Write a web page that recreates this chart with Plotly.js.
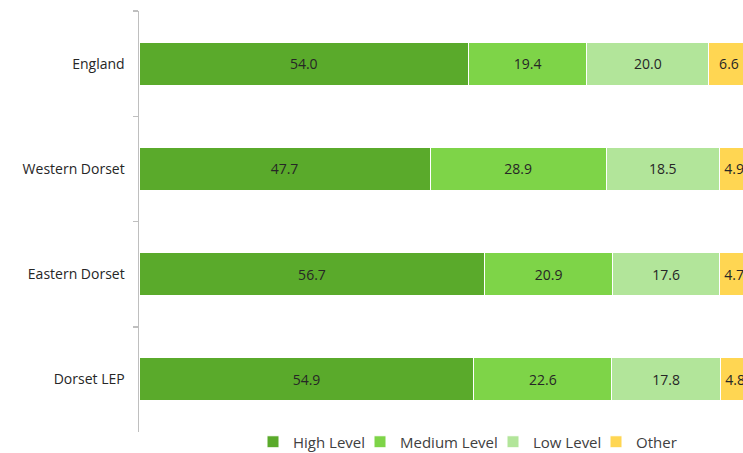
<!DOCTYPE html>
<html>
<head>
<meta charset="utf-8">
<script src="https://cdn.plot.ly/plotly-3.0.1.min.js"></script>
<style>html,body{margin:0;padding:0;background:#fff;}#chart{width:743px;height:453px;}</style>
</head>
<body>
<div id="chart"></div>
<script>
const categories = ["England", "Western Dorset", "Eastern Dorset", "Dorset LEP"];
const seriesNames = ["High Level", "Medium Level", "Low Level", "Other"];
const highLevel = [54.0, 47.7, 56.7, 54.9];
const mediumLevel = [19.4, 28.9, 20.9, 22.6];
const lowLevel = [20.0, 18.5, 17.6, 17.8];
const other = [6.6, 4.9, 4.7, 4.8];
const seriesValues = [highLevel, mediumLevel, lowLevel, other];
const colors = ["#5aaa2b", "#7ed448", "#b2e59a", "#ffd652"];
const legendIds = ["legend", "legend2", "legend3", "legend4"];
const legendX = [253, 360, 493, 596];

const traces = seriesValues.map((vals, i) => ({
  type: "bar",
  orientation: "h",
  name: seriesNames[i],
  legend: legendIds[i],
  y: categories,
  x: vals,
  marker: {color: colors[i], line: {color: "#ffffff", width: 1}},
  texttemplate: "%{x:.1f}",
  textposition: "inside",
  insidetextanchor: "middle",
  textangle: 0,
  constraintext: "none",
  textfont: {family: "'Open Sans', Lato, sans-serif", size: 14, color: "#262626"},
  hoverinfo: "skip"
}));

const layout = {
  width: 743,
  height: 453,
  margin: {l: 139, r: 0, t: 11, b: 21, autoexpand: false},
  barmode: "stack",
  bargap: 0.59,
  paper_bgcolor: "#ffffff",
  plot_bgcolor: "#ffffff",
  font: {family: "'Open Sans', Lato, sans-serif", size: 14, color: "#262626"},
  xaxis: {range: [0, 99], showticklabels: false, showgrid: false, zeroline: false, showline: false, fixedrange: true},
  yaxis: {
    type: "category",
    categoryorder: "array",
    categoryarray: categories,
    autorange: "reversed",
    showline: true,
    linecolor: "#bfbfbf",
    linewidth: 1.5,
    ticks: "outside",
    tickson: "boundaries",
    ticklen: 5,
    tickcolor: "#bfbfbf",
    tickwidth: 1.5,
    ticklabelstandoff: 10,
    showgrid: false,
    zeroline: false,
    tickfont: {size: 14, color: "#262626"}
  },
  showlegend: true
};

legendIds.forEach((id, i) => {
  layout[id] = {
    orientation: "h",
    xref: "container", yref: "container",
    x: legendX[i] / 743, xanchor: "left",
    y: 11 / 453, yanchor: "middle",
    font: {size: 15, color: "#404040"},
    itemwidth: 30,
    bgcolor: "rgba(0,0,0,0)"
  };
});

Plotly.newPlot("chart", traces, layout, {displayModeBar: false, staticPlot: true});
</script>
</body>
</html>
